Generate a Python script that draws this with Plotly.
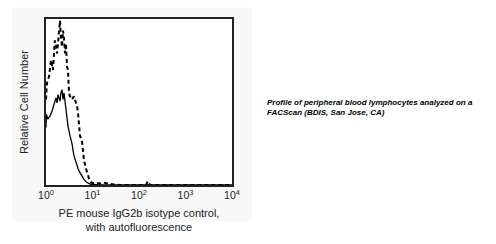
import plotly.graph_objects as go

# Fluorescence intensity (log axis) and relative counts (% of max)
dashed_x = [1.0, 1.05, 1.16, 1.28, 1.41, 1.55, 1.73, 1.91, 2.0, 2.09, 2.21, 2.32, 2.44,
            2.57, 2.69, 2.83, 2.97, 3.13, 3.28, 3.63, 3.98, 4.42, 4.65, 4.88, 5.13, 5.37,
            5.94, 6.25, 6.56, 7.24, 7.59, 8.41, 9.29, 10.2, 11.9, 14.5, 17.0, 19.5, 23.8,
            28.8, 38.9, 141, 155, 174, 10000]
dashed_y = [52, 62, 66, 76, 70, 88, 80, 98, 100, 90, 84, 94, 89,
            80, 86, 72, 70, 56, 54, 52, 54, 50, 48, 44, 34, 30,
            27, 19, 15, 10, 8, 4, 1.7, 1.1, 1.4, 0.9, 1.4, 0.9, 0.6,
            0.3, 0, 0, 2.3, 0, 0]

solid_x = [1.0, 1.02, 1.10, 1.22, 1.35, 1.49, 1.64, 1.73, 1.81, 2.0, 2.09, 2.21, 2.32,
           2.44, 2.57, 2.69, 2.82, 2.97, 3.28, 3.63, 3.98, 4.42, 4.88, 5.37, 5.94, 6.56,
           7.24, 8.0, 8.83, 10.2, 14.5, 10000]
solid_y = [35, 43, 40, 42, 45, 49, 53, 50, 55, 51, 56, 58, 52,
           56, 50, 48, 41, 36, 30, 25, 18, 13, 10, 7.5, 5, 3.4,
           2, 1.1, 0.6, 0.3, 0, 0]

tick_vals = [1, 10, 100, 1000, 10000]
tick_text = ["10<sup>0</sup>", "10<sup>1</sup>", "10<sup>2</sup>", "10<sup>3</sup>", "10<sup>4</sup>"]

x_title = "PE mouse IgG2b isotype control,<br>with autofluorescence"
y_title = "Relative Cell Number"
caption_lines = ["Profile of peripheral blood lymphocytes analyzed on a",
                 "FACScan (BDIS, San Jose, CA)"]

fig = go.Figure()
fig.add_trace(go.Scatter(x=solid_x, y=solid_y, mode="lines",
                         line=dict(color="black", width=1.3), showlegend=False))
fig.add_trace(go.Scatter(x=dashed_x, y=dashed_y, mode="lines",
                         line=dict(color="black", width=2, dash="4px,3px"), showlegend=False))

fig.update_layout(
    width=496, height=244,
    margin=dict(l=46, r=264, t=19, b=51),
    paper_bgcolor="white", plot_bgcolor="white",
    font=dict(family="Liberation Sans, Arial, sans-serif", color="#222"),
    xaxis=dict(type="log", range=[0, 4], tickvals=tick_vals, ticktext=tick_text,
               showgrid=False, zeroline=False, showline=True, linecolor="#222",
               linewidth=1.5, mirror=True, ticks="", tickfont=dict(size=10.5),
               title=dict(text=x_title, font=dict(size=11), standoff=9)),
    yaxis=dict(range=[0, 101], showticklabels=False, showgrid=False, zeroline=False,
               showline=True, linecolor="#222", linewidth=1.5, mirror=True, ticks="",
               title=dict(text=y_title, font=dict(size=11), standoff=13)),
    shapes=[
        dict(type="rect", xref="paper", yref="paper", x0=-0.183, x1=1.108,
             y0=-0.218, y1=1.069, fillcolor="#f8f8f8", line=dict(width=0), layer="below"),
        dict(type="rect", xref="paper", yref="paper", x0=0, x1=1, y0=0, y1=1,
             fillcolor="white", line=dict(width=0), layer="below"),
    ],
    annotations=[
        dict(text="<br>".join("<b><i>" + s + "</i></b>" for s in caption_lines),
             xref="paper", yref="paper", x=(265 - 46) / 186, y=(193 - 112) / 174,
             xanchor="left", yanchor="middle", align="left", showarrow=False,
             font=dict(size=8, color="black")),
    ],
)

fig.write_html("out.html")
